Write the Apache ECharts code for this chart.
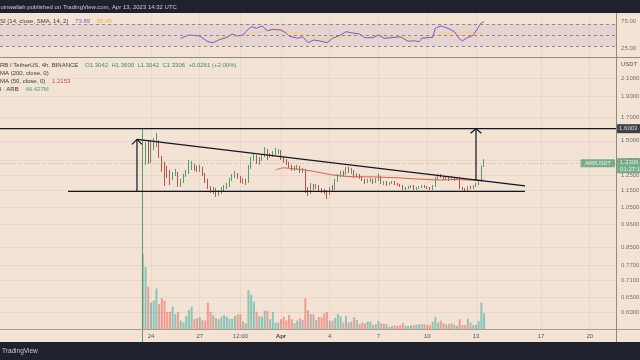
<!DOCTYPE html>
<html><head><meta charset="utf-8">
<script src="https://cdn.jsdelivr.net/npm/echarts@6/dist/echarts.min.js"></script>
<style>html,body{margin:0;padding:0;background:#f2e3d4;}#c{width:640px;height:360px;}</style>
</head><body><div id="c"></div>
<script>
// ---------------- data ----------------
// time unit: hours from 24 Mar 2023 00:00 (chart time); one candle = 4h
const firstCandleHour = -12;
const candleStepHours = 4;
const opens = [0.30,1.333,1.428,1.340,1.443,1.482,1.498,1.376,1.298,1.291,
 1.250,1.237,1.256,1.263,1.184,1.210,1.250,1.270,1.305,1.312,
 1.291,1.283,1.298,1.256,1.210,1.172,1.147,1.159,1.129,1.147,
 1.159,1.172,1.184,1.216,1.243,1.256,1.237,1.210,1.216,1.203,
 1.305,1.361,1.376,1.340,1.354,1.383,1.420,1.376,1.390,1.405,
 1.413,1.420,1.369,1.347,1.333,1.312,1.291,1.298,1.305,1.277,
 1.283,1.147,1.135,1.178,1.165,1.178,1.159,1.147,1.141,1.135,
 1.165,1.159,1.210,1.243,1.263,1.256,1.283,1.270,1.277,1.243,
 1.250,1.237,1.216,1.203,1.210,1.216,1.203,1.216,1.237,1.197,
 1.203,1.191,1.197,1.203,1.191,1.184,1.178,1.159,1.165,1.172,
 1.178,1.159,1.165,1.172,1.178,1.172,1.165,1.159,1.178,1.224,
 1.243,1.237,1.224,1.230,1.224,1.230,1.224,1.230,1.165,1.159,
 1.153,1.172,1.165,1.178,1.191,1.210,1.3042];
const closes = [1.333,1.428,1.340,1.443,1.482,1.498,1.376,1.298,1.291,1.250,
 1.237,1.256,1.263,1.184,1.210,1.250,1.270,1.305,1.312,1.291,
 1.283,1.298,1.256,1.210,1.172,1.147,1.159,1.129,1.147,1.159,
 1.172,1.184,1.216,1.243,1.256,1.237,1.210,1.216,1.203,1.305,
 1.361,1.376,1.340,1.354,1.383,1.420,1.376,1.390,1.405,1.413,
 1.420,1.369,1.347,1.333,1.312,1.291,1.298,1.305,1.277,1.283,
 1.147,1.135,1.178,1.165,1.178,1.159,1.147,1.141,1.135,1.165,
 1.159,1.210,1.243,1.263,1.256,1.283,1.270,1.277,1.243,1.250,
 1.237,1.216,1.203,1.210,1.216,1.203,1.216,1.237,1.197,1.203,
 1.191,1.197,1.203,1.191,1.184,1.178,1.159,1.165,1.172,1.178,
 1.159,1.165,1.172,1.178,1.172,1.165,1.159,1.178,1.224,1.243,
 1.237,1.224,1.230,1.224,1.230,1.224,1.230,1.165,1.159,1.153,
 1.172,1.165,1.178,1.191,1.210,1.3042,1.3306];
const lows = [0.30,1.319,1.326,1.333,1.428,1.451,1.369,1.270,1.178,1.230,
 1.184,1.216,1.243,1.172,1.172,1.197,1.237,1.256,1.283,1.277,
 1.270,1.270,1.243,1.197,1.159,1.135,1.129,1.111,1.117,1.129,
 1.147,1.159,1.172,1.210,1.230,1.224,1.197,1.191,1.184,1.197,
 1.291,1.347,1.326,1.319,1.347,1.376,1.354,1.369,1.376,1.390,
 1.398,1.354,1.333,1.319,1.298,1.277,1.277,1.283,1.263,1.263,
 1.135,1.117,1.129,1.153,1.159,1.147,1.135,1.129,1.099,1.123,
 1.147,1.153,1.203,1.237,1.243,1.250,1.263,1.256,1.230,1.230,
 1.224,1.210,1.191,1.197,1.203,1.191,1.197,1.210,1.191,1.184,
 1.178,1.184,1.191,1.184,1.178,1.172,1.153,1.153,1.159,1.165,
 1.153,1.153,1.159,1.165,1.165,1.159,1.153,1.153,1.172,1.216,
 1.230,1.216,1.216,1.210,1.216,1.210,1.216,1.159,1.153,1.147,
 1.147,1.159,1.159,1.172,1.184,1.203,1.3042];
const highs = [1.598,1.490,1.506,1.506,1.522,1.564,1.506,1.383,1.340,1.312,
 1.283,1.270,1.291,1.270,1.224,1.256,1.283,1.354,1.347,1.326,
 1.312,1.319,1.305,1.263,1.224,1.178,1.172,1.165,1.153,1.172,
 1.184,1.197,1.230,1.256,1.277,1.263,1.243,1.230,1.224,1.319,
 1.376,1.405,1.390,1.376,1.398,1.451,1.435,1.405,1.420,1.443,
 1.435,1.428,1.376,1.361,1.340,1.319,1.312,1.319,1.312,1.298,
 1.291,1.172,1.197,1.191,1.191,1.184,1.165,1.159,1.153,1.172,
 1.184,1.224,1.256,1.277,1.277,1.305,1.305,1.298,1.283,1.263,
 1.256,1.243,1.224,1.224,1.230,1.224,1.230,1.256,1.243,1.210,
 1.210,1.203,1.210,1.210,1.197,1.191,1.184,1.172,1.178,1.184,
 1.184,1.172,1.178,1.184,1.184,1.178,1.172,1.184,1.237,1.256,
 1.256,1.243,1.243,1.237,1.243,1.237,1.237,1.237,1.172,1.165,
 1.178,1.178,1.184,1.197,1.216,1.312,1.3600];
const volumesM = [222,184,125,78,84,120,74,91,84,51,
 51,66,44,51,25,19,38,56,66,29,
 32,35,27,25,78,51,41,32,29,36,
 41,36,30,30,38,43,44,22,17,115,
 101,81,51,38,36,54,54,29,50,19,
 19,29,36,25,41,29,17,25,32,27,
 91,56,44,44,27,36,35,46,50,25,
 25,33,44,38,19,38,19,22,35,27,
 15,19,17,22,22,12,15,24,17,15,
 15,7,9,11,9,11,17,9,9,11,
 11,13,14,14,14,12,11,21,36,19,
 25,17,13,15,17,13,9,29,12,12,
 30,19,12,12,23,78,46.427];
const ma50Idx = [49,52,56,60,65,70,75,80,85,90,95,100,105,110,115,120,126];
const ma50Vals = [1.283,1.298,1.291,1.283,1.267,1.250,1.240,1.237,1.237,1.233,1.230,1.224,1.220,1.216,1.220,1.216,1.2153];
const rsiIdx = [14,17,21,24,26,28,31,33,35,37,38,40,42,44,46,48,51,53,54,57,59,61,63,65,68,70,73,75,77,80,82,85,87,89,92,95,98,100,102,103,105,107,108,110,111,113,115,117,118,120,121,122,124,125,126];
const rsiVals = [44.0,50,48.2,37.8,36,40.9,45.8,51.8,48.2,50,56,65.1,62.2,66.4,57.8,60.4,59.1,53.1,48.2,44,46.9,36,40.9,39.6,36,44,50,56,54.2,51.8,45.1,45.1,50,44,45.1,46.9,38.5,39.6,37.8,44,45.1,45.8,62.2,66.4,65.1,61.5,56,42.2,39.6,45.8,46.9,50,65.1,72.4,73.89];
const rsiMaIdx = [27,33,41,46,51,55,61,65,72,78,84,90,96,102,107,112,117,122,126];
const rsiMaVals = [44,46.9,53.1,57.8,57.8,54.2,50,43,45.8,50,50,48.2,45.8,44,48.2,53.1,54.9,54.2,52];
const xTickHours = [0,72,132,192,264,336,408,480,576,648];
const xTickLabels = ['24','27','12:00','Apr','4','7','10','13','17','20'];
const priceTicks = [2.1,1.9,1.7,1.5,1.35,1.25,1.15,1.05,0.96,0.85,0.77,0.71,0.65,0.60];
const rsiTicks = [75,25];
const rsiLevels = [70,50,30];
const lastPrice = 1.3306;
const targetPrice = 1.6003;
// drawings (hour, price)
const trendHours = [-20.7,552.4], trendPrices = [1.512,1.1787];
const supportHours = [-122.6,552.4], supportPrice = 1.144;
const leftArrowHour = -20.7, leftArrowPrices = [1.144,1.512], leftHeadHours = [-28.1,-20.7,-13.3], leftHeadPrices = [1.471,1.512,1.471];
const rightArrowHour = 480, rightArrowPrices = [1.21,1.6003], rightHeadHours = [472,480,488], rightHeadPrices = [1.5614,1.6003,1.5614];

// ---------------- chart ----------------
const X_MIN = -223.0, X_MAX = 686.8;
const FONT = '"Liberation Sans", Arial, sans-serif';
const UP = '#5a9b6e', DOWN = '#b9524a';
const hourOf = i => firstCandleHour + i * candleStepHours;
const candleData = opens.map((o, i) => [hourOf(i), o, closes[i], lows[i], highs[i]]);
const volData = volumesM.map((v, i) => ({value: [hourOf(i), v],
  itemStyle: {color: closes[i] >= opens[i] ? 'rgba(38,166,154,0.5)' : 'rgba(239,83,80,0.5)'}}));
const gridFaint = 'rgba(110,90,70,0.08)';
const drawStyle = {color: '#131722', width: 1.2};
function drawLine(xs, ys) {
  return {type: 'line', xAxisIndex: 1, yAxisIndex: 1, data: xs.map((x, k) => [x, Array.isArray(ys) ? ys[k] : ys]),
    symbol: 'none', lineStyle: drawStyle, z: 6, silent: true, animation: false};
}
const chart = echarts.init(document.getElementById('c'), null, {renderer: 'canvas', width: 640, height: 360});
chart.setOption({
  animation: false,
  backgroundColor: '#f2e3d4',
  grid: [
    {left: 0, top: 13, width: 616, height: 44, outerBoundsMode: 'none'},
    {left: 0, top: 57, width: 616, height: 272, outerBoundsMode: 'none'}
  ],
  xAxis: [
    {type: 'value', gridIndex: 0, min: X_MIN, max: X_MAX, axisLabel: {show: false}, axisLine: {show: false}, axisTick: {show: false}, splitLine: {show: false}},
    {type: 'value', gridIndex: 1, min: X_MIN, max: X_MAX, axisLine: {show: false}, axisTick: {show: false}, splitLine: {show: false},
      axisLabel: {customValues: xTickHours, fontSize: 6, color: '#555', fontFamily: FONT, margin: 4,
        formatter: v => { let k = 0, d = 1e9; xTickHours.forEach((h, j) => { if (Math.abs(h - v) < d) { d = Math.abs(h - v); k = j; } });
          return xTickLabels[k] === 'Apr' ? '{b|Apr}' : xTickLabels[k]; },
        rich: {b: {fontWeight: 'bold', fontSize: 6, color: '#444', fontFamily: FONT}}}}
  ],
  yAxis: [
    {type: 'value', gridIndex: 0, min: 10, max: 90, show: false, splitLine: {show: false}},
    {type: 'log', logBase: 10, gridIndex: 1, min: 0.5483, max: 2.348, show: false, splitLine: {show: false}},
    {type: 'value', gridIndex: 1, min: 0, max: 805, show: false, splitLine: {show: false}}
  ],
  series: [
    {type: 'line', xAxisIndex: 0, yAxisIndex: 0, data: rsiIdx.map((k, j) => [hourOf(k), rsiVals[j]]), symbol: 'none',
      lineStyle: {color: '#7e57c2', width: 1}, z: 4, silent: true,
      markArea: {silent: true, itemStyle: {color: 'rgba(126,87,194,0.10)'}, data: [[{yAxis: 70}, {yAxis: 30}]]},
      markLine: {silent: true, symbol: 'none', label: {show: false}, lineStyle: {color: '#8d8790', type: [3, 3], width: 1}, data: rsiLevels.map(v => ({yAxis: v}))}},
    {type: 'line', xAxisIndex: 0, yAxisIndex: 0, data: rsiMaIdx.map((k, j) => [hourOf(k), rsiMaVals[j]]), symbol: 'none', smooth: 0.3,
      lineStyle: {color: '#f0d27c', width: 1.2}, z: 3, silent: true,
      markLine: {silent: true, symbol: 'none', label: {show: false}, lineStyle: {color: gridFaint, type: 'solid', width: 1}, data: xTickHours.map(h => ({xAxis: h}))}},
    {type: 'scatter', xAxisIndex: 0, yAxisIndex: 0, data: rsiTicks.map(v => [X_MAX, v]), symbolSize: 0.1, itemStyle: {color: 'rgba(0,0,0,0)'}, silent: true,
      label: {show: true, position: 'right', distance: 5, formatter: p => p.value[1].toFixed(2), fontSize: 6, color: '#555', fontFamily: FONT}},
    {type: 'bar', xAxisIndex: 1, yAxisIndex: 2, data: volData, barWidth: 2, z: 1, silent: true,
      markLine: {silent: true, symbol: 'none', label: {show: false}, lineStyle: {color: gridFaint, type: 'solid', width: 1}, data: xTickHours.map(h => ({xAxis: h}))}},
    {type: 'candlestick', xAxisIndex: 1, yAxisIndex: 1, data: candleData, encode: {x: 0, y: [1, 2, 3, 4]}, barWidth: 1.2, clip: true, z: 3, silent: true,
      itemStyle: {color: UP, color0: DOWN, borderColor: UP, borderColor0: DOWN, borderWidth: 1},
      markLine: {silent: true, symbol: 'none', label: {show: false}, lineStyle: {color: gridFaint, type: 'solid', width: 1},
        data: priceTicks.map(p => ({yAxis: p})).concat([{yAxis: lastPrice, lineStyle: {color: 'rgba(110,100,90,0.35)', type: [1, 2], width: 1}}])}},
    {type: 'line', xAxisIndex: 1, yAxisIndex: 1, data: ma50Idx.map((k, j) => [hourOf(k), ma50Vals[j]]), symbol: 'none', smooth: 0.3,
      lineStyle: {color: '#e25a56', width: 1}, z: 4, silent: true},
    drawLine(trendHours, trendPrices),
    drawLine(supportHours, [supportPrice, supportPrice]),
    drawLine([X_MIN, X_MAX], [targetPrice, targetPrice]),
    drawLine([leftArrowHour, leftArrowHour], leftArrowPrices),
    drawLine(leftHeadHours, leftHeadPrices),
    drawLine([rightArrowHour, rightArrowHour], rightArrowPrices),
    drawLine(rightHeadHours, rightHeadPrices),
    {type: 'scatter', xAxisIndex: 1, yAxisIndex: 1, data: priceTicks.map(p => [X_MAX, p]), symbolSize: 0.1, itemStyle: {color: 'rgba(0,0,0,0)'}, z: 7, silent: true,
      label: {show: true, position: 'right', distance: 5, formatter: p => p.value[1].toFixed(4), fontSize: 6, color: '#555', fontFamily: FONT}},
    {type: 'scatter', xAxisIndex: 1, yAxisIndex: 1, data: [[X_MAX, targetPrice]], symbolSize: 0.1, itemStyle: {color: 'rgba(0,0,0,0)'}, z: 9, silent: true,
      label: {show: true, position: 'right', distance: 1, formatter: p => p.value[1].toFixed(4), fontSize: 6, color: '#fff', fontFamily: FONT,
        backgroundColor: '#131722', padding: [2, 4, 1, 2]}},
    {type: 'scatter', xAxisIndex: 1, yAxisIndex: 1, data: [[X_MAX, lastPrice]], symbolSize: 0.1, itemStyle: {color: 'rgba(0,0,0,0)'}, z: 10, silent: true,
      label: {show: true, position: 'right', distance: 1, offset: [0, 2.5], formatter: p => p.value[1].toFixed(4) + '\n01:27:18', fontSize: 6, lineHeight: 6.5,
        color: '#fff', fontFamily: FONT, backgroundColor: '#5a9f79', padding: [1, 4, 1, 3]}},
    {type: 'scatter', xAxisIndex: 1, yAxisIndex: 1, data: [[X_MAX, lastPrice]], symbolSize: 0.1, itemStyle: {color: 'rgba(0,0,0,0)'}, z: 10, silent: true,
      label: {show: true, position: 'left', distance: 1, formatter: 'ARBUSDT', fontSize: 5.5, color: '#fff', fontFamily: FONT,
        backgroundColor: '#5a9f79', padding: [1, 4, 1, 4]}}
  ],
  graphic: [
    {type: 'rect', z: 100, shape: {x: 0, y: 0, width: 640, height: 13}, style: {fill: '#1e222d'}},
    {type: 'text', z: 101, x: 0.5, y: 7, style: {text: 'oinwallah published on TradingView.com, Apr 13, 2023 14:32 UTC', fill: '#c9ccd3', fontSize: 6, fontFamily: FONT, verticalAlign: 'middle'}},
    {type: 'rect', z: 100, shape: {x: 0, y: 342, width: 640, height: 18}, style: {fill: '#1e222d'}},
    {type: 'text', z: 101, x: 2, y: 351.5, style: {text: 'TradingView', fill: '#c9ccd3', fontSize: 6.5, fontFamily: FONT, verticalAlign: 'middle'}},
    {type: 'line', z: 50, shape: {x1: 0, y1: 57.5, x2: 640, y2: 57.5}, style: {stroke: '#8f8983', lineWidth: 1}},
    {type: 'line', z: 50, shape: {x1: 0, y1: 329.5, x2: 640, y2: 329.5}, style: {stroke: '#a59e97', lineWidth: 1}},
    {type: 'line', z: 50, shape: {x1: 616.5, y1: 13, x2: 616.5, y2: 342}, style: {stroke: '#8f8983', lineWidth: 1}},
    {type: 'text', z: 60, x: 621, y: 64.5, style: {text: 'USDT', fill: '#555', fontSize: 6, fontFamily: FONT, verticalAlign: 'middle'}},
    {type: 'text', z: 60, x: -4.3, y: 21, style: {text: '{a|RSI (14, close, SMA, 14, 2)}  {p|73.89}  {y|50.45}', verticalAlign: 'middle',
      rich: {a: {fill: '#3a3a3a', fontSize: 6, fontFamily: FONT}, p: {fill: '#7e57c2', fontSize: 6, fontFamily: FONT}, y: {fill: '#e2b43c', fontSize: 6, fontFamily: FONT}}}},
    {type: 'text', z: 60, x: -4, y: 65, style: {text: '{a|ARB / TetherUS, 4h, BINANCE}  {g|O1.3042  H1.3600  L1.3042  C1.3306  +0.0261 (+2.00%)}', verticalAlign: 'middle',
      rich: {a: {fill: '#3a3a3a', fontSize: 6, fontFamily: FONT}, g: {fill: '#3f8f67', fontSize: 6, fontFamily: FONT}}}},
    {type: 'text', z: 60, x: -4, y: 73, style: {text: 'SMA (200, close, 0)', fill: '#3a3a3a', fontSize: 6, fontFamily: FONT, verticalAlign: 'middle'}},
    {type: 'text', z: 60, x: -4, y: 81, style: {text: '{a|SMA (50, close, 0)}  {r|1.2153}', verticalAlign: 'middle',
      rich: {a: {fill: '#3a3a3a', fontSize: 6, fontFamily: FONT}, r: {fill: '#e04a4a', fontSize: 6, fontFamily: FONT}}}},
    {type: 'text', z: 60, x: -7.3, y: 89.5, style: {text: '{a|Vol · ARB}  {t|46.427M}', verticalAlign: 'middle',
      rich: {a: {fill: '#3a3a3a', fontSize: 6, fontFamily: FONT}, t: {fill: '#3c9f8c', fontSize: 6, fontFamily: FONT}}}}
  ]
});
</script></body></html>
